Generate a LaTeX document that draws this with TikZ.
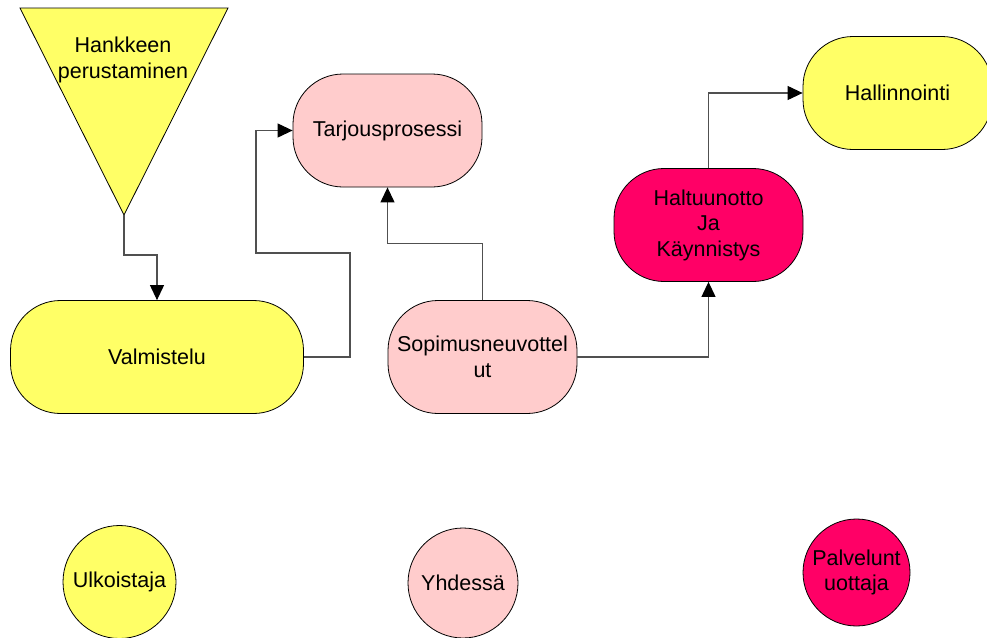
\documentclass[tikz,border=0pt]{standalone}
\usepackage{fontspec}
\setmainfont{Liberation Sans}
\usetikzlibrary{arrows.meta}
\definecolor{ylw}{HTML}{FFFF66}
\definecolor{pnk}{HTML}{FFCCCC}
\definecolor{mgn}{HTML}{FF0066}
\definecolor{lnk}{HTML}{505050}
\tikzset{
  box/.style={rectangle, rounded corners=50pt, draw=black, line width=0.8pt,
    minimum width=189pt, minimum height=113pt, inner sep=0pt, align=center,
    font=\fontsize{21.5}{25.5}\selectfont},
  disc/.style={circle, draw=black, line width=0.8pt, inner sep=0pt, align=center,
    font=\fontsize{21.5}{25.5}\selectfont},
  conn/.style={draw=lnk, line width=1.1pt,
    -{Triangle[length=15pt,width=14pt,color=black]}}
}
\begin{document}
\begin{tikzpicture}[x=1pt,y=-1pt]
\clip (0,0) rectangle (987,637);
\fill[white] (0,0) rectangle (987,637);

% start triangle
\filldraw[fill=ylw, draw=black, line width=0.8pt] (20,8) -- (228,8) -- (124,215) -- cycle;
\coordinate (apex) at (124,215);
\node[align=center, font=\fontsize{21.5}{25.5}\selectfont] (hank) at (123,60) {Hankkeen\\perustaminen};

% process steps
\node[box, fill=ylw, minimum width=293pt] (valm) at (157,357) {Valmistelu};
\node[box, fill=pnk] (tarj) at (387.5,130.5) {Tarjousprosessi};
\node[box, fill=pnk] (sopi) at (482.5,357) {Sopimusneuvottel\\ut};
\node[box, fill=mgn] (halt) at (708.5,225) {Haltuunotto\\Ja\\Käynnistys};
\node[box, fill=ylw] (hall) at (897.5,93) {Hallinnointi};

% legend
\node[disc, fill=ylw, minimum size=113pt] (ulko) at (119.5,582) {Ulkoistaja};
\node[disc, fill=pnk, minimum size=110pt] (yhd) at (463,583) {Yhdessä};
\node[disc, fill=mgn, minimum size=107pt] (palv) at (856.5,572.5) {Palvelunt\\uottaja};

% connectors
\draw[conn] (apex) -- ++(0,40) -| (valm.north);
\draw[conn] (valm.east) -| (350,253) -- (256,253) |- (tarj.west);
\draw[conn] (sopi.north) -- ++(0,-57) -| (tarj.south);
\draw[conn] (sopi.east) -| (halt.south);
\draw[conn] (halt.north) |- (hall.west);
\end{tikzpicture}
\end{document}
